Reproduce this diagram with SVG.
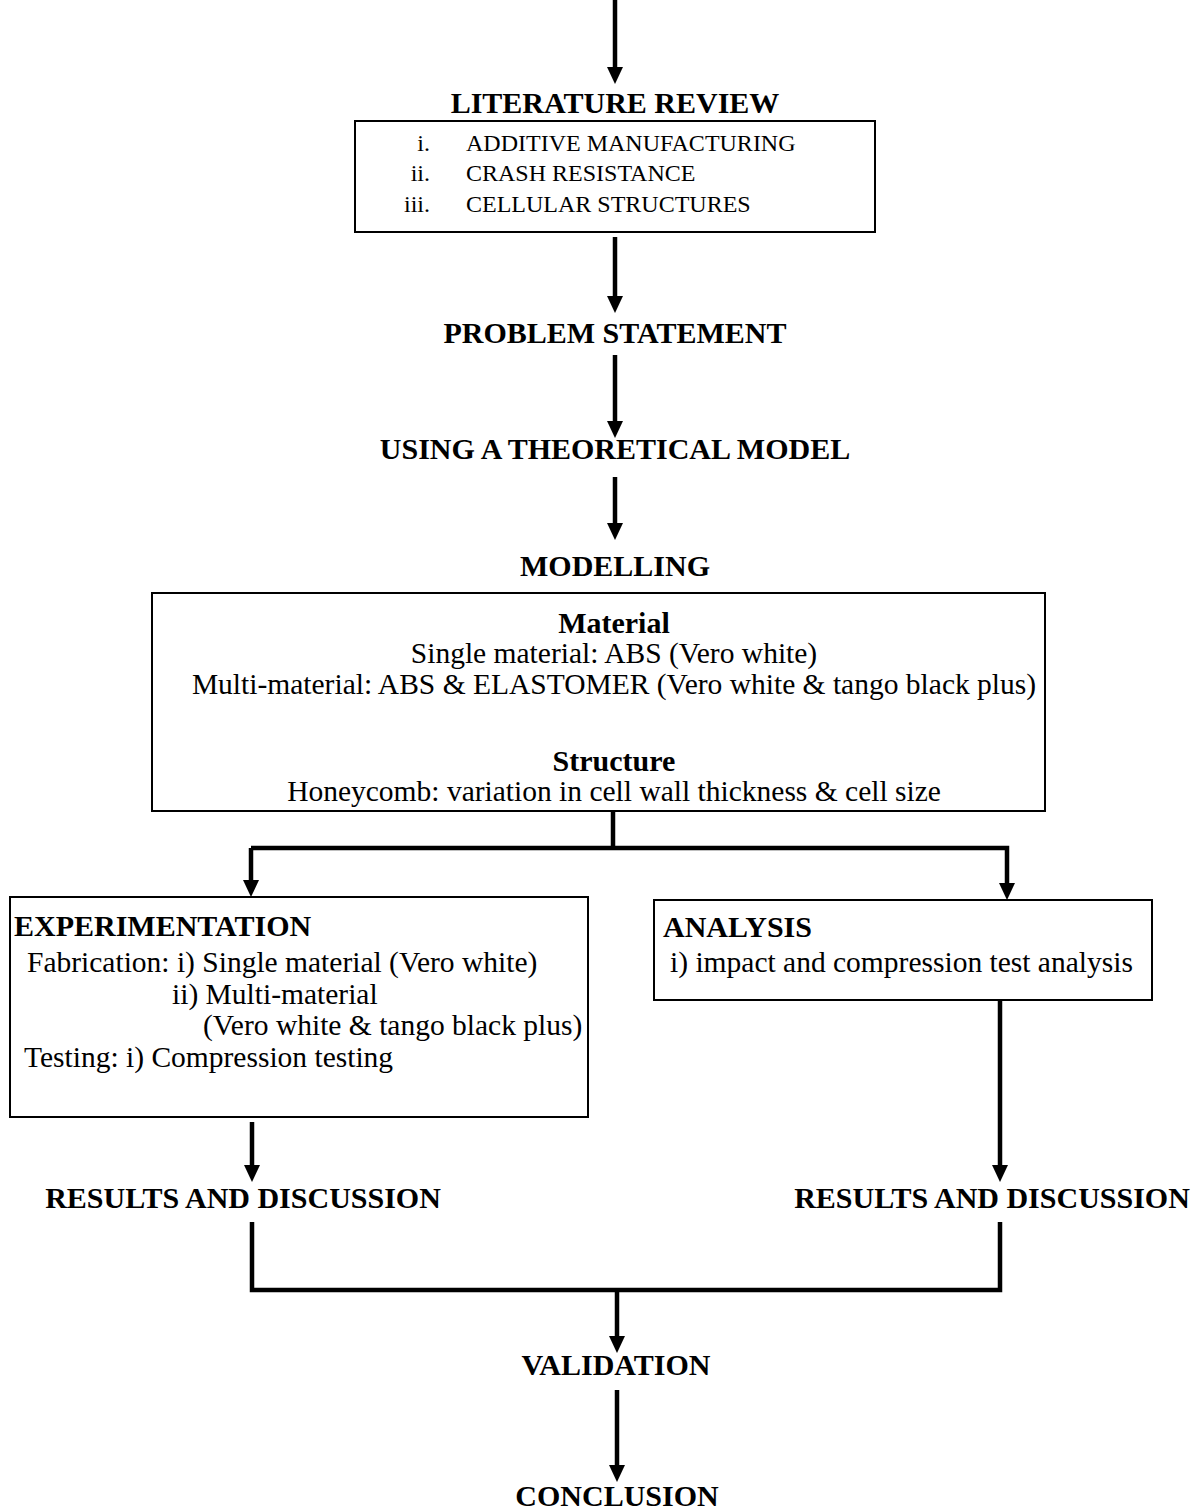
<svg xmlns="http://www.w3.org/2000/svg" width="1204" height="1512" viewBox="0 0 1204 1512">
<style>
.h{font-family:"Liberation Serif","Times New Roman",serif;font-weight:bold;font-size:30px;fill:#000}
.t{font-family:"Liberation Serif","Times New Roman",serif;font-size:29.5px;fill:#000}
.s{font-family:"Liberation Serif","Times New Roman",serif;font-size:24px;fill:#000}
.box{fill:#fff;stroke:#000;stroke-width:2}
.c{fill:none;stroke:#000;stroke-width:4.5}
</style>
<defs>
<marker id="ah" viewBox="0 0 17 16" markerWidth="17" markerHeight="16" refX="7" refY="8" orient="auto" markerUnits="userSpaceOnUse">
<path d="M0,0 L17,8 L0,16 z" fill="#000"/>
</marker>
</defs>
<rect width="1204" height="1512" fill="#fff"/>
<g id="connectors">
<line class="c" x1="615" y1="0" x2="615" y2="74" marker-end="url(#ah)"/>
<line class="c" x1="615" y1="237" x2="615" y2="303" marker-end="url(#ah)"/>
<line class="c" x1="615" y1="355" x2="615" y2="428" marker-end="url(#ah)"/>
<line class="c" x1="615" y1="477" x2="615" y2="530" marker-end="url(#ah)"/>
<polyline class="c" points="613,812 613,848"/>
<polyline class="c" points="251,848 1007,848 1007,890" marker-end="url(#ah)"/>
<line class="c" x1="251" y1="848" x2="251" y2="887" marker-end="url(#ah)"/>
<line class="c" x1="252" y1="1122" x2="252" y2="1172" marker-end="url(#ah)"/>
<line class="c" x1="1000" y1="1001" x2="1000" y2="1172" marker-end="url(#ah)"/>
<polyline class="c" points="252,1222 252,1290 1000,1290 1000,1222"/>
<line class="c" x1="617" y1="1290" x2="617" y2="1343" marker-end="url(#ah)"/>
<line class="c" x1="617" y1="1390" x2="617" y2="1472" marker-end="url(#ah)"/>
</g>
<g id="literature-review">
<text class="h" x="615" y="113" text-anchor="middle">LITERATURE REVIEW</text>
<rect class="box" x="355" y="121" width="520" height="111"/>
<text class="s" x="430" y="151" text-anchor="end">i.</text>
<text class="s" x="466" y="151">ADDITIVE MANUFACTURING</text>
<text class="s" x="430" y="181" text-anchor="end">ii.</text>
<text class="s" x="466" y="181">CRASH RESISTANCE</text>
<text class="s" x="430" y="212" text-anchor="end">iii.</text>
<text class="s" x="466" y="212">CELLULAR STRUCTURES</text>
</g>
<g id="problem-statement">
<text class="h" x="615" y="343" text-anchor="middle">PROBLEM STATEMENT</text>
</g>
<g id="theoretical-model">
<text class="h" x="615" y="459" text-anchor="middle">USING A THEORETICAL MODEL</text>
</g>
<g id="modelling">
<text class="h" x="615" y="576" text-anchor="middle">MODELLING</text>
<rect class="box" x="152" y="593" width="893" height="218"/>
<text class="h" x="614" y="633" text-anchor="middle">Material</text>
<text class="t" x="614" y="663" text-anchor="middle">Single material: ABS (Vero white)</text>
<text class="t" x="614" y="694" text-anchor="middle">Multi-material: ABS &amp; ELASTOMER (Vero white &amp; tango black plus)</text>
<text class="h" x="614" y="771" text-anchor="middle">Structure</text>
<text class="t" x="614" y="801" text-anchor="middle">Honeycomb: variation in cell wall thickness &amp; cell size</text>
</g>
<g id="experimentation">
<rect class="box" x="10" y="897" width="578" height="220"/>
<text class="h" x="14" y="936">EXPERIMENTATION</text>
<text class="t" x="27" y="972">Fabrication: i) Single material (Vero white)</text>
<text class="t" x="172" y="1004">ii) Multi-material</text>
<text class="t" x="203" y="1035">(Vero white &amp; tango black plus)</text>
<text class="t" x="24" y="1067">Testing: i) Compression testing</text>
</g>
<g id="analysis">
<rect class="box" x="654" y="900" width="498" height="100"/>
<text class="h" x="663" y="937">ANALYSIS</text>
<text class="t" x="670" y="972">i) impact and compression test analysis</text>
</g>
<g id="results-left">
<text class="h" x="243" y="1208" text-anchor="middle">RESULTS AND DISCUSSION</text>
</g>
<g id="results-right">
<text class="h" x="992" y="1208" text-anchor="middle">RESULTS AND DISCUSSION</text>
</g>
<g id="validation">
<text class="h" x="616" y="1375" text-anchor="middle">VALIDATION</text>
</g>
<g id="conclusion">
<text class="h" x="617" y="1506" text-anchor="middle">CONCLUSION</text>
</g>
</svg>
